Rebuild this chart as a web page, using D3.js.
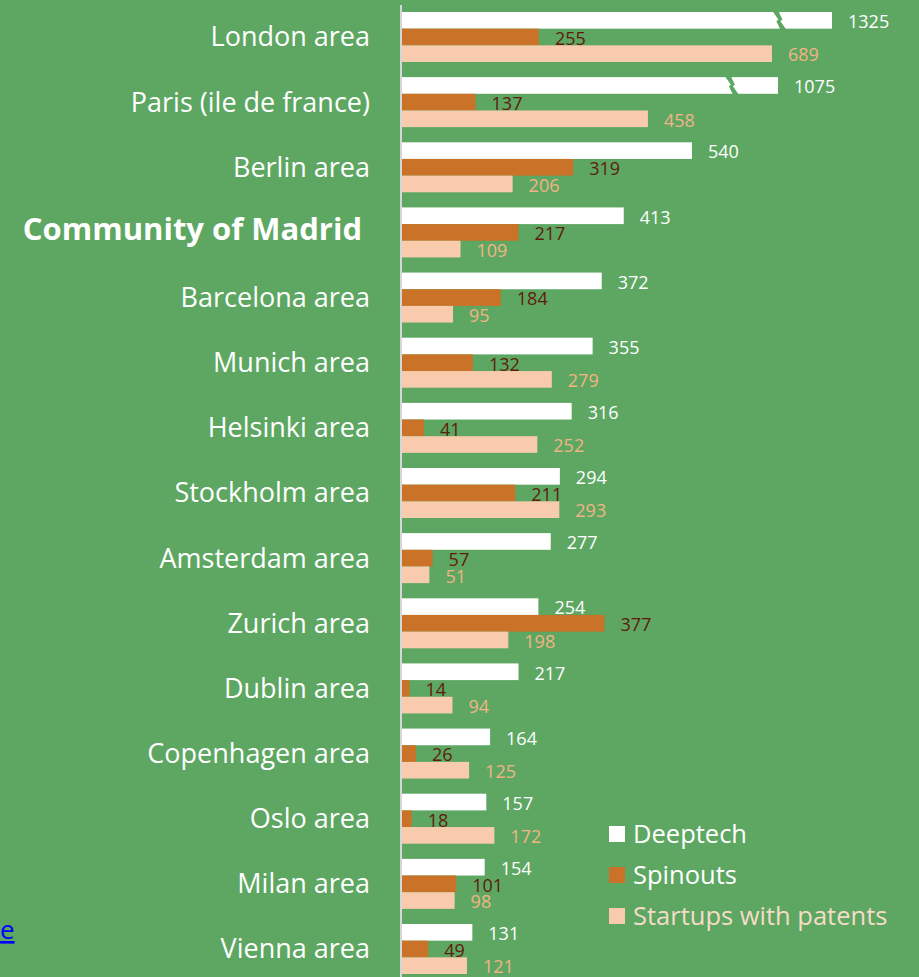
<!DOCTYPE html>
<html>
<head>
<meta charset="utf-8">
<script src="https://cdn.jsdelivr.net/npm/d3@7"></script>
<style>
  html, body { margin: 0; padding: 0; background: #5da762; }
  svg { display: block; font-family: "Open Sans", sans-serif; }
</style>
</head>
<body>
<svg width="919" height="977"></svg>
<script>
// chart data
var cities = ["London area", "Paris (ile de france)", "Berlin area", "Community of Madrid",
  "Barcelona area", "Munich area", "Helsinki area", "Stockholm area", "Amsterdam area",
  "Zurich area", "Dublin area", "Copenhagen area", "Oslo area", "Milan area", "Vienna area"];
var deeptech = [1325, 1075, 540, 413, 372, 355, 316, 294, 277, 254, 217, 164, 157, 154, 131];
var spinouts = [255, 137, 319, 217, 184, 132, 41, 211, 57, 377, 14, 26, 18, 101, 49];
var patents = [689, 458, 206, 109, 95, 279, 252, 293, 51, 198, 94, 125, 172, 98, 121];
var seriesNames = ["Deeptech", "Spinouts", "Startups with patents"];
var highlight = "Community of Madrid";

var svg = d3.select("svg"),
  width = +svg.attr("width"),
  height = +svg.attr("height");

var fills = ["#ffffff", "#cb7229", "#f8cbad"];
var labelFills = ["#ffffff", "#5e1c0c", "#f2b485"];

// broken axis: the two biggest deeptech bars are squeezed
var x = d3.scaleLinear()
  .domain([0, 690, 1075, 1325])
  .range([402, 772.5, 778, 832]);

var y = d3.scaleBand()
  .domain(cities)
  .range([12, 974])
  .paddingInner(0.2325)
  .paddingOuter(0);

var y1 = d3.scaleBand()
  .domain(seriesNames)
  .range([0, y.bandwidth()]);

var rows = cities.map(function(c, i) {
  return { city: c, values: [deeptech[i], spinouts[i], patents[i]] };
});

svg.append("rect")
  .attr("width", width)
  .attr("height", height)
  .attr("fill", "#5da762");

var groups = svg.selectAll("g.city")
  .data(rows)
  .enter().append("g")
    .attr("class", "city")
    .attr("transform", function(d) { return "translate(0," + y(d.city) + ")"; });

groups.selectAll("rect")
  .data(function(d) { return d.values.map(function(v, k) { return { k: k, v: v }; }); })
  .enter().append("rect")
    .attr("x", x(0))
    .attr("y", function(d) { return y1(seriesNames[d.k]); })
    .attr("width", function(d) { return x(d.v) - x(0); })
    .attr("height", y1.bandwidth())
    .attr("fill", function(d) { return fills[d.k]; });

// break marks on the squeezed bars
var h = y1.bandwidth();
groups.filter(function(d) { return d.values[0] > 690; })
  .append("path")
    .attr("d", function(d) {
      var end = x(d.values[0]);
      var x0 = end - 0.12 * (end - x(0)) - 8;
      return "M" + x0 + ",-1 L" + (x0 + 6) + ",-1 L" + (x0 + 10) + "," + (0.45 * h) +
        " L" + (x0 + 8) + "," + (0.55 * h) + " L" + (x0 + 14) + "," + (h + 1) +
        " L" + (x0 + 8) + "," + (h + 1) + " L" + (x0 + 4) + "," + (0.55 * h) +
        " L" + (x0 + 6) + "," + (0.45 * h) + "Z";
    })
    .attr("fill", "#5da762");

groups.selectAll("text.val")
  .data(function(d) { return d.values.map(function(v, k) { return { k: k, v: v }; }); })
  .enter().append("text")
    .attr("class", "val")
    .attr("x", function(d) { return x(d.v) + 16; })
    .attr("y", function(d) { return y1(seriesNames[d.k]) + y1.bandwidth() / 2 + 1.5; })
    .attr("dy", "0.35em")
    .attr("font-size", 18)
    .attr("fill", function(d) { return labelFills[d.k]; })
    .text(function(d) { return d.v; });

// category labels
groups.append("text")
    .attr("x", function(d) { return d.city === highlight ? 362 : 370; })
    .attr("y", function(d) { return d.city === highlight ? y.bandwidth() / 2 - 3 : y.bandwidth() / 2; })
    .attr("dy", "0.35em")
    .attr("text-anchor", "end")
    .attr("fill", "#ffffff")
    .attr("font-size", function(d) { return d.city === highlight ? 31 : 27; })
    .attr("font-weight", function(d) { return d.city === highlight ? "bold" : "normal"; })
    .text(function(d) { return d.city; });

// vertical axis line
svg.append("line")
  .attr("x1", 401).attr("x2", 401)
  .attr("y1", 5).attr("y2", height)
  .attr("stroke", "#d6d6d6")
  .attr("stroke-width", 2);

// legend
var legend = svg.append("g")
  .attr("transform", "translate(609,826)");

var li = legend.selectAll("g")
  .data(seriesNames)
  .enter().append("g")
    .attr("transform", function(d, i) { return "translate(0," + (i * 41) + ")"; });

li.append("rect")
  .attr("width", 16)
  .attr("height", 16)
  .attr("fill", function(d, i) { return fills[i]; });

li.append("text")
  .attr("x", 24)
  .attr("y", 8)
  .attr("dy", "0.35em")
  .attr("font-size", 25.5)
  .attr("fill", function(d, i) { return i === 2 ? "#f6dcc8" : "#ffffff"; })
  .text(function(d) { return d; });

// clipped hyperlink remnant at the left edge
svg.append("text")
  .attr("x", 0)
  .attr("y", 939)
  .attr("font-size", 26)
  .attr("fill", "#0000ff")
  .attr("text-decoration", "underline")
  .text("e");
</script>
</body>
</html>
